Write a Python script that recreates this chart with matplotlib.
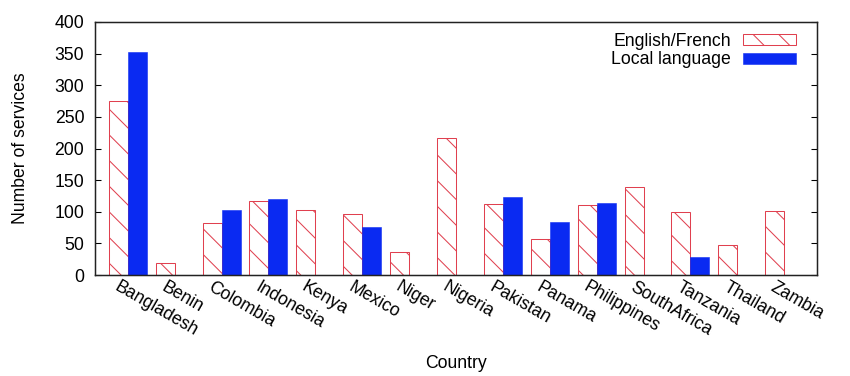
import matplotlib
matplotlib.use("Agg")
import matplotlib.pyplot as plt
import numpy as np
from matplotlib.transforms import ScaledTranslation

countries = ["Bangladesh", "Benin", "Colombia", "Indonesia", "Kenya", "Mexico",
             "Niger", "Nigeria", "Pakistan", "Panama", "Philippines", "SouthAfrica",
             "Tanzania", "Thailand", "Zambia"]
english_french = [275, 19, 82, 117, 102, 96, 37, 217, 113, 57, 110, 139, 100, 48, 101]
local_language = [353, 0, 103, 120, 0, 76, 0, 0, 124, 84, 114, 0, 29, 0, 0]
yticks = [0, 50, 100, 150, 200, 250, 300, 350, 400]

DPI = 77
plt.rcParams['font.family'] = ['Liberation Sans', 'DejaVu Sans']
plt.rcParams['hatch.linewidth'] = 0.95
FS = 16.5

fig = plt.figure(figsize=(850 / DPI, 376 / DPI), dpi=DPI)
ax = fig.add_axes([95 / 850, 1 - 275 / 376, (817 - 95) / 850, (275 - 22) / 376])

red = '#e0404f'
blue = '#0a2af2'
x = np.arange(len(countries))
w = 0.405
ax.bar(x - w / 2, english_french, w, facecolor='white', edgecolor=red,
       hatch='\\', linewidth=0.95, label='English/French')
ax.bar(x + w / 2, local_language, w, facecolor=blue, edgecolor=blue,
       linewidth=0.5, label='Local language')

ax.set_xlim(-0.7, len(countries) - 1 + 0.7)
ax.set_ylim(0, 400)
ax.set_yticks(yticks)
ax.set_yticklabels([str(v) for v in yticks], fontsize=FS)
ax.tick_params(axis='y', direction='in', length=5.6, width=1.0, right=True,
               pad=10, colors='black')
ax.set_xticks(x)
ax.set_xticklabels(countries, fontsize=FS, rotation=-30, ha='left', va='top',
                   rotation_mode='anchor')
ax.tick_params(axis='x', length=0, pad=3.5)
off = ScaledTranslation(-8 / DPI, 0, fig.dpi_scale_trans)
for lab in ax.get_xticklabels():
    lab.set_transform(lab.get_transform() + off)

for sp in ax.spines.values():
    sp.set_linewidth(1.4)
    sp.set_color('#222222')

ax.set_ylabel('Number of services', fontsize=FS)
ax.yaxis.set_label_coords((29 - 95) / 722, 0.5)
ax.set_xlabel('Country', fontsize=FS)
ax.xaxis.set_label_coords(0.5, -(355 - 275) / 253)
ax.xaxis.label.set_va('top')

leg = ax.legend(loc='upper right', bbox_to_anchor=(796 / 850, 1 - 33 / 376),
                bbox_transform=fig.transFigure, frameon=False, markerfirst=False,
                fontsize=FS, handlelength=3.0, handleheight=0.56,
                handletextpad=0.68, labelspacing=0.08, borderpad=0,
                borderaxespad=0)
for t in leg.get_texts():
    t.set_ha('right')

fig.savefig('out.png', dpi=DPI)
